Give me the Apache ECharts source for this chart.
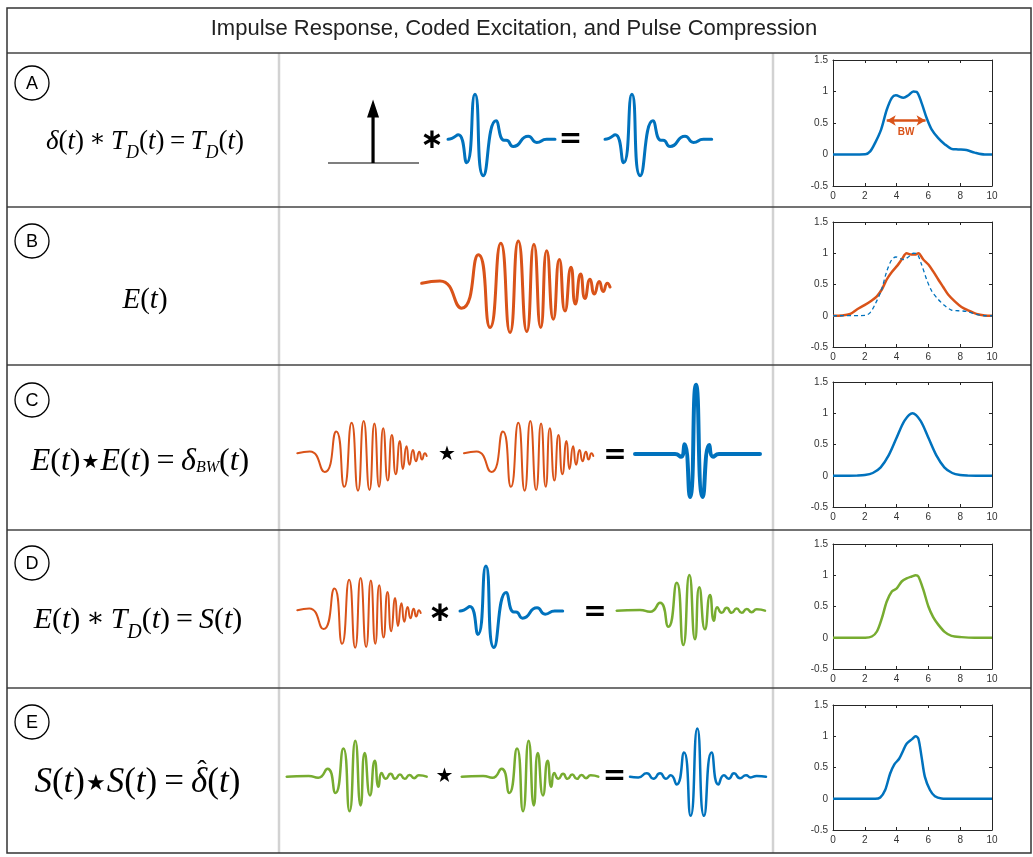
<!DOCTYPE html>
<html><head><meta charset="utf-8">
<script src="https://cdn.jsdelivr.net/npm/echarts@6/dist/echarts.min.js"></script>
<style>html,body{margin:0;padding:0;background:#fff}#c{width:1033px;height:857px}</style>
</head><body><div id="c"></div>
<script>
// ================= DATA =================
const titleText = 'Impulse Response, Coded Excitation, and Pulse Compression';
const rowLabels = ['A', 'B', 'C', 'D', 'E'];
const specXTicks = [0, 2, 4, 6, 8, 10];
const specYTicks = [-0.5, 0, 0.5, 1, 1.5];

// delta function sketch (unit box)
const deltaBase = [[0, 0], [1, 0]];
const deltaStem = [[0.495, 0], [0.495, 0.74]];
const deltaHead = [[0.495, 0.865]];

// transducer impulse response T_D(t)  [t, amplitude]
const impulseResponse = [[0, 0], [0.37, 0.02], [0.96, 0.10], [1.74, -0.52], [2.52, 1.0], [3.30, -0.81],
  [4.49, 0.41], [5.23, -0.02], [5.45, -0.02], [6.10, -0.16], [7.5, 0.07], [8.29, -0.07], [9.22, 0], [10, 0]];

// coded excitation chirp E(t)
const chirp = [[0, 0.08], [0.97, 0.13], [2.12, -0.46], [3.01, 0.70], [3.63, -0.88], [4.20, 0.95], [4.69, -0.99],
  [5.13, 1.0], [5.58, -0.97], [5.96, 0.93], [6.32, -0.88], [6.64, 0.79], [6.99, -0.70], [7.31, 0.60], [7.61, -0.52],
  [7.93, 0.43], [8.16, -0.37], [8.44, 0.28], [8.67, -0.25], [8.94, 0.17], [9.17, -0.15], [9.43, 0.12], [9.64, -0.10],
  [9.86, 0.08], [10, 0.0]];

// compressed pulse delta_BW(t)
const compressedPulse = [[0, 0], [3.2, 0], [3.68, -0.04], [3.96, 0.14], [4.4, -0.62], [4.88, 1.0], [5.42, -0.62],
  [5.94, 0.13], [6.24, -0.04], [6.72, 0], [10, 0]];

// received coded signal S(t)
const codedSignal = [[0, 0], [1.57, 0.02], [2.25, -0.03], [2.92, 0.22], [3.48, -0.45], [4.05, 0.78], [4.49, -0.96],
  [4.90, 1.0], [5.28, -0.80], [5.57, 0.66], [5.95, -0.52], [6.29, 0.44], [6.56, -0.28], [6.78, 0.10], [7.08, -0.06],
  [7.42, 0.08], [7.75, -0.06], [8.09, 0.06], [8.43, -0.06], [8.77, 0.05], [9.1, -0.04], [9.44, 0.04], [10, 0]];

// autocorrelation of S(t)
const autoCorrS = [[0, 0], [0.61, -0.014], [1.23, 0.07], [1.72, -0.04], [2.21, 0.07], [2.65, -0.04], [2.99, 0.03],
  [3.43, -0.16], [3.97, 0.50], [4.46, -0.81], [4.95, 1.0], [5.44, -0.81], [6.0, 0.50], [6.5, -0.16], [6.91, 0.03],
  [7.25, -0.04], [7.65, 0.07], [8.09, -0.03], [8.53, 0.03], [8.87, -0.014], [9.31, 0.014], [10, 0]];

// spectra (right column)
const specTD = [[0, 0], [2.03, 0.005], [2.34, 0.05], [2.65, 0.185], [3.03, 0.40], [3.38, 0.71], [3.70, 0.90],
  [3.95, 0.94], [4.43, 0.90], [4.74, 0.94], [5.05, 1.0], [5.26, 0.995], [5.57, 0.82], [5.89, 0.58], [6.2, 0.40],
  [6.62, 0.26], [7.04, 0.16], [7.45, 0.09], [7.87, 0.08], [8.39, 0.07], [8.91, 0.03], [9.54, 0.0], [10, 0]];
const bwArrow = [[3.38, 0.54], [5.82, 0.54]];
const specE = [[0, 0], [0.56, 0.005], [1.09, 0.03], [1.5, 0.10], [1.98, 0.17], [2.44, 0.245], [2.76, 0.31],
  [3.07, 0.42], [3.38, 0.58], [3.70, 0.70], [4.07, 0.81], [4.32, 0.90], [4.63, 1.0], [4.91, 0.98], [5.16, 0.98],
  [5.37, 1.0], [5.68, 0.90], [6.0, 0.82], [6.3, 0.71], [6.62, 0.58], [6.93, 0.46], [7.24, 0.34], [7.66, 0.23],
  [8.08, 0.14], [8.5, 0.085], [9.02, 0.03], [9.54, 0.005], [10, 0]];
const specBW = [[0, 0], [1, 0], [1.5, 0.002], [2, 0.011], [2.5, 0.044], [3, 0.135], [3.5, 0.325], [4, 0.607],
  [4.5, 0.882], [5, 1], [5.5, 0.882], [6, 0.607], [6.5, 0.325], [7, 0.135], [7.5, 0.044], [8, 0.011], [8.5, 0.002],
  [9, 0], [10, 0]];
const specS = [[0, 0], [2.03, 0], [2.44, 0.02], [2.76, 0.10], [3.07, 0.31], [3.38, 0.58], [3.70, 0.74], [4.01, 0.79],
  [4.32, 0.90], [4.63, 0.95], [4.95, 0.98], [5.2, 1.0], [5.37, 0.98], [5.68, 0.77], [6.0, 0.50], [6.3, 0.33],
  [6.62, 0.21], [7.04, 0.09], [7.45, 0.03], [8.08, 0.01], [8.91, 0], [10, 0]];
const specAuto = [[0, 0], [2.65, 0], [2.97, 0.02], [3.28, 0.14], [3.59, 0.40], [3.86, 0.55], [4.16, 0.64],
  [4.43, 0.78], [4.63, 0.88], [4.95, 0.95], [5.2, 1.0], [5.37, 0.96], [5.57, 0.67], [5.78, 0.35], [6.1, 0.14],
  [6.41, 0.04], [6.83, 0.005], [7.45, 0], [10, 0]];

// ================= STYLE / LAYOUT =================
const BLUE = '#0072BD', ORANGE = '#D95319', GREEN = '#77AC30';
const grids = [], xAxes = [], yAxes = [], series = [];

function waveGrid(left, right, base, amp) {
  return { left: left, top: base - amp, width: right - left, height: 2 * amp };
}
function addWave(box, data, color, width) {
  const k = grids.length;
  grids.push(box);
  xAxes.push({ gridIndex: k, type: 'value', min: 0, max: 10, show: false });
  yAxes.push({ gridIndex: k, type: 'value', min: -1, max: 1, show: false });
  series.push({ type: 'line', xAxisIndex: k, yAxisIndex: k, data: data, smooth: 0.6, symbol: 'none', clip: false,
    silent: true, lineStyle: { color: color, width: width, cap: 'round', join: 'round' } });
}

// delta sketch grid
(function () {
  const k = grids.length;
  grids.push({ left: 328, top: 100, width: 91, height: 63 });
  xAxes.push({ gridIndex: k, type: 'value', min: 0, max: 1, show: false });
  yAxes.push({ gridIndex: k, type: 'value', min: 0, max: 1, show: false });
  series.push({ type: 'line', xAxisIndex: k, yAxisIndex: k, data: deltaBase, symbol: 'none', clip: false, silent: true,
    lineStyle: { color: '#000', width: 1.2 } });
  series.push({ type: 'line', xAxisIndex: k, yAxisIndex: k, data: deltaStem, symbol: 'none', clip: false, silent: true,
    lineStyle: { color: '#000', width: 3.2 } });
  series.push({ type: 'scatter', xAxisIndex: k, yAxisIndex: k, data: deltaHead, symbol: 'triangle', symbolSize: [12, 18],
    clip: false, silent: true, itemStyle: { color: '#000', opacity: 1 } });
})();

// middle column waves
addWave(waveGrid(448, 555, 139.3, 45), impulseResponse, BLUE, 3);
addWave(waveGrid(605, 711.7, 139.3, 45), impulseResponse, BLUE, 3);
addWave(waveGrid(421.7, 610, 287, 46), chirp, ORANGE, 3);
addWave(waveGrid(297.3, 426.7, 456, 35), chirp, ORANGE, 2);
addWave(waveGrid(464, 593.3, 456, 35), chirp, ORANGE, 2);
addWave(waveGrid(635, 760, 454, 69.3), compressedPulse, BLUE, 4);
addWave(waveGrid(297.3, 420.7, 613, 35), chirp, ORANGE, 2);
addWave(waveGrid(460, 562.7, 611, 45), impulseResponse, BLUE, 3);
addWave(waveGrid(616.7, 765, 610.7, 35.7), codedSignal, GREEN, 2.5);
addWave(waveGrid(286.7, 426.7, 776.7, 36), codedSignal, GREEN, 2.5);
addWave(waveGrid(461.7, 598.3, 776.7, 36), codedSignal, GREEN, 2.5);
addWave(waveGrid(630, 766, 776.7, 48.3), autoCorrS, BLUE, 2.5);

// right column spectra
const AX = '#262626';
function addSpec(top, height, lines, extra) {
  const k = grids.length;
  grids.push({ left: 833, top: top, width: 159, height: height });
  const xi = xAxes.length, yi = yAxes.length;
  const common = { gridIndex: k, type: 'value', splitLine: { show: false },
    axisLine: { show: true, onZero: false, lineStyle: { color: AX, width: 1 } },
    axisTick: { show: true, inside: true, length: 3, lineStyle: { color: AX } } };
  xAxes.push(Object.assign({}, common, { position: 'bottom', min: specXTicks[0], max: specXTicks[specXTicks.length - 1], interval: 2,
    axisLabel: { show: true, color: '#333', fontSize: 10, fontFamily: 'Liberation Sans', margin: 5 } }));
  xAxes.push(Object.assign({}, common, { position: 'top', min: specXTicks[0], max: specXTicks[specXTicks.length - 1], interval: 2,
    axisLabel: { show: false } }));
  yAxes.push(Object.assign({}, common, { position: 'left', min: specYTicks[0], max: specYTicks[specYTicks.length - 1], interval: 0.5,
    axisLabel: { show: true, color: '#333', fontSize: 10, fontFamily: 'Liberation Sans', margin: 5 } }));
  yAxes.push(Object.assign({}, common, { position: 'right', min: specYTicks[0], max: specYTicks[specYTicks.length - 1], interval: 0.5,
    axisLabel: { show: false } }));
  lines.forEach(function (l, i) {
    const s = { type: 'line', xAxisIndex: xi, yAxisIndex: yi, data: l.data, smooth: 0.3, symbol: 'none', silent: true,
      lineStyle: { color: l.color, width: l.width, type: l.type || 'solid' }, z: l.z || 2 };
    if (i === 0 && extra) s.markLine = extra;
    series.push(s);
  });
}
addSpec(60, 126, [{ data: specTD, color: BLUE, width: 2.5 }], {
  silent: true, symbol: ['arrow', 'arrow'], symbolSize: [8, 9], animation: false,
  lineStyle: { color: ORANGE, width: 2.5, type: 'solid' },
  label: { show: true, position: 'insideMiddleBottom', formatter: 'BW', color: ORANGE, fontWeight: 'bold',
    fontSize: 10, fontFamily: 'Liberation Sans', distance: 7 },
  data: [[{ coord: bwArrow[0] }, { coord: bwArrow[1] }]]
});
addSpec(222, 125, [{ data: specTD, color: BLUE, width: 1.3, type: [4, 3], z: 3 }, { data: specE, color: ORANGE, width: 2.5 }]);
addSpec(382, 125, [{ data: specBW, color: BLUE, width: 2.5 }]);
addSpec(544, 125, [{ data: specS, color: GREEN, width: 2.5 }]);
addSpec(705, 125, [{ data: specAuto, color: BLUE, width: 2.5 }]);

// ================= TABLE / TEXT GRAPHICS =================
const graphics = [];
const LINE = '#444', VLINE = '#d2d2d2';
graphics.push({ type: 'line', shape: { x1: 279, y1: 53, x2: 279, y2: 853 }, style: { stroke: VLINE, lineWidth: 2.5 }, z: 0 });
graphics.push({ type: 'line', shape: { x1: 773, y1: 53, x2: 773, y2: 853 }, style: { stroke: VLINE, lineWidth: 2.5 }, z: 0 });
[53, 207, 365, 530, 688].forEach(function (y) {
  graphics.push({ type: 'line', shape: { x1: 7, y1: y, x2: 1031, y2: y }, style: { stroke: LINE, lineWidth: 1.5 }, z: 1 });
});
graphics.push({ type: 'rect', shape: { x: 7, y: 8, width: 1024, height: 845 }, style: { fill: null, stroke: '#333', lineWidth: 1.5 }, z: 1 });
graphics.push({ type: 'text', x: 514, y: 29, style: { text: titleText, fill: '#222', font: '22px "Liberation Sans"', align: 'center', verticalAlign: 'middle' } });

const circleY = [83, 241, 400, 563, 722];
rowLabels.forEach(function (lab, i) {
  graphics.push({ type: 'circle', shape: { cx: 32, cy: circleY[i], r: 17 }, style: { fill: '#fff', stroke: '#000', lineWidth: 1.3 }, z: 2 });
  graphics.push({ type: 'text', x: 32, y: circleY[i] + 1, style: { text: lab, fill: '#000', font: '18px "Liberation Sans"', align: 'center', verticalAlign: 'middle' }, z: 3 });
});

function formula(parts, F) {
  const LH = Math.round(F * 1.2);
  const sub = Math.round(F * 0.66);
  const stS = Math.round(F * 0.62);
  const rich = {
    i: { fontFamily: 'Liberation Serif', fontStyle: 'italic', fontSize: F, lineHeight: LH, verticalAlign: 'top', fill: '#000' },
    r: { fontFamily: 'Liberation Serif', fontSize: F, lineHeight: LH, verticalAlign: 'top', fill: '#000' },
    op: { fontFamily: 'DejaVu Serif', fontSize: Math.round(F * 0.9), lineHeight: LH, verticalAlign: 'top', fill: '#000' },
    sub: { fontFamily: 'Liberation Serif', fontStyle: 'italic', fontSize: sub, lineHeight: sub, padding: [Math.round(F * 0.6), 0, 0, 0], verticalAlign: 'top', fill: '#000' },
    sc: { fontFamily: 'Liberation Serif', fontStyle: 'italic', fontSize: Math.round(F * 0.5), lineHeight: Math.round(F * 0.5), padding: [Math.round(F * 0.44), 0, 0, 0], verticalAlign: 'top', fill: '#000' },
    st: { fontFamily: 'DejaVu Sans', fontSize: stS, lineHeight: stS, padding: [Math.round(F * 0.6 - stS / 2 - 2), 1, 0, 1], verticalAlign: 'top', fill: '#000' }
  };
  return { text: parts.map(function (p) { return '{' + p[0] + '|' + p[1] + '}'; }).join(''), rich: rich };
}
const TS = '\u2009';
const formulas = [
  { x: 145, y: 144, F: 27, a: 'center', parts: [['i', 'δ'], ['r', '('], ['i', 't'], ['r', ')' + TS], ['op', '∗'], ['i', TS + 'T'], ['sub', 'D'], ['r', '('], ['i', 't'], ['r', ')' + TS], ['r', '='], ['i', TS + 'T'], ['sub', 'D'], ['r', '('], ['i', 't'], ['r', ')']] },
  { x: 145, y: 303, F: 29, a: 'center', parts: [['i', 'E'], ['r', '('], ['i', 't'], ['r', ')']] },
  { x: 140, y: 465, F: 32, a: 'center', parts: [['i', 'E'], ['r', '('], ['i', 't'], ['r', ')'], ['st', '★'], ['i', 'E'], ['r', '('], ['i', 't'], ['r', ')'], ['r', TS + '=' + TS], ['i', 'δ'], ['sc', 'BW'], ['r', '('], ['i', 't'], ['r', ')']] },
  { x: 138, y: 623, F: 30, a: 'center', parts: [['i', 'E'], ['r', '('], ['i', 't'], ['r', ')' + TS], ['op', '∗'], ['i', TS + 'T'], ['sub', 'D'], ['r', '('], ['i', 't'], ['r', ')'], ['r', TS + '=' + TS], ['i', 'S'], ['r', '('], ['i', 't'], ['r', ')']] },
  { x: 191, y: 786, F: 35, a: 'right', parts: [['i', 'S'], ['r', '('], ['i', 't'], ['r', ')'], ['st', '★'], ['i', 'S'], ['r', '('], ['i', 't'], ['r', ')'], ['r', TS + '=' + TS]] },
  { x: 191, y: 786, F: 35, a: 'left', parts: [['i', 'δ'], ['r', '('], ['i', 't'], ['r', ')']] }
];
formulas.forEach(function (f) {
  const fm = formula(f.parts, f.F);
  graphics.push({ type: 'text', x: f.x, y: f.y, style: { text: fm.text, rich: fm.rich, align: f.a, verticalAlign: 'middle' }, z: 3 });
});
// hat over delta in row E
graphics.push({ type: 'text', x: 202, y: 772, style: { text: 'ˆ', fill: '#000', font: '28px "Liberation Serif"', align: 'center', verticalAlign: 'middle' }, z: 3 });

// operators in the middle column
const ops = [
  { t: '∗', x: 432, y: 141, s: 28, w: 'bold' },
  { t: '=', x: 570.5, y: 140, s: 28, w: 'bold' },
  { t: '★', x: 447, y: 455, s: 20, w: 'normal' },
  { t: '=', x: 615, y: 456, s: 28, w: 'bold' },
  { t: '∗', x: 440, y: 614, s: 28, w: 'bold' },
  { t: '=', x: 595, y: 613, s: 28, w: 'bold' },
  { t: '★', x: 444.5, y: 777, s: 20, w: 'normal' },
  { t: '=', x: 614.5, y: 777, s: 28, w: 'bold' }
];
ops.forEach(function (o) {
  graphics.push({ type: 'text', x: o.x, y: o.y, style: { text: o.t, fill: '#000', font: o.w + ' ' + o.s + 'px "DejaVu Sans"', align: 'center', verticalAlign: 'middle' }, z: 3 });
});

const chart = echarts.init(document.getElementById('c'), null, { renderer: 'canvas', width: 1033, height: 857 });
chart.setOption({
  animation: false,
  backgroundColor: '#fff',
  grid: grids,
  xAxis: xAxes,
  yAxis: yAxes,
  series: series,
  graphic: { elements: graphics }
});
</script>
</body></html>
